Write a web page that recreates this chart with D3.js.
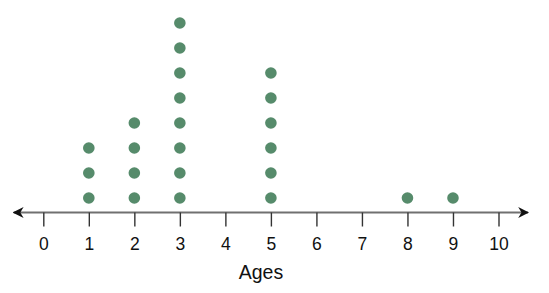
<!DOCTYPE html>
<html>
<head>
<meta charset="utf-8">
<script src="https://cdn.jsdelivr.net/npm/d3@7"></script>
<style>
  body { margin: 0; background: #fff; }
  svg { display: block; }
</style>
</head>
<body>
<svg id="chart" width="549" height="293"></svg>
<script>
// ages and how many dots stand above each one
var ages = [1, 2, 3, 5, 8, 9];
var counts = [3, 4, 8, 6, 1, 1];
var tickValues = [0, 1, 2, 3, 4, 5, 6, 7, 8, 9, 10];
var axisTitle = "Ages";

var svg = d3.select('#chart');

var axisY = 212.5,
    dotGap = 25,
    dotR = 5.8;

var x = d3.scaleLinear().domain([0, 10]).range([43.3, 498.5]);

// arrow heads
var defs = svg.append('defs');
defs.append('marker')
    .attr('id', 'arrow')
    .attr('viewBox', '0 0 10 10')
    .attr('refX', 9).attr('refY', 5)
    .attr('markerWidth', 5.5).attr('markerHeight', 5.5)
    .attr('markerUnits', 'strokeWidth')
    .attr('orient', 'auto-start-reverse')
    .append('path')
        .attr('d', 'M0,0 L10,5 L0,10 L3,5 Z')
        .attr('fill', '#111');

svg.append('line')
    .attr('x1', x(-0.65)).attr('x2', x(10.65))
    .attr('y1', axisY).attr('y2', axisY)
    .attr('stroke', '#707070')
    .attr('stroke-width', 2)
    .attr('marker-start', 'url(#arrow)')
    .attr('marker-end', 'url(#arrow)');

var axis = d3.axisBottom(x)
    .tickValues(tickValues)
    .tickSize(14)
    .tickPadding(11)
    .tickFormat(d3.format('d'));

var g = svg.append('g')
    .attr('transform', 'translate(0,' + axisY + ')')
    .call(axis);
g.select('.domain').remove();
g.selectAll('.tick line').attr('stroke', '#333').attr('stroke-width', 1.4);
g.selectAll('.tick text')
    .attr('font-family', 'Liberation Sans, Arial, sans-serif')
    .attr('font-size', 17.5)
    .attr('fill', '#111');

svg.append('text')
    .attr('x', 261)
    .attr('y', 279)
    .attr('text-anchor', 'middle')
    .attr('font-family', 'Liberation Sans, Arial, sans-serif')
    .attr('font-size', 19.5)
    .attr('fill', '#111')
    .text(axisTitle);

// one dot per observation
var dots = [];
ages.forEach(function(a, i) {
    for (var k = 0; k < counts[i]; k++) dots.push({ age: a, k: k });
});

svg.append('g').selectAll('circle')
    .data(dots)
    .enter().append('circle')
        .attr('cx', function(d) { return x(d.age); })
        .attr('cy', function(d) { return axisY - 14.5 - d.k * dotGap; })
        .attr('r', dotR)
        .attr('fill', '#568b6b');
</script>
</body>
</html>
